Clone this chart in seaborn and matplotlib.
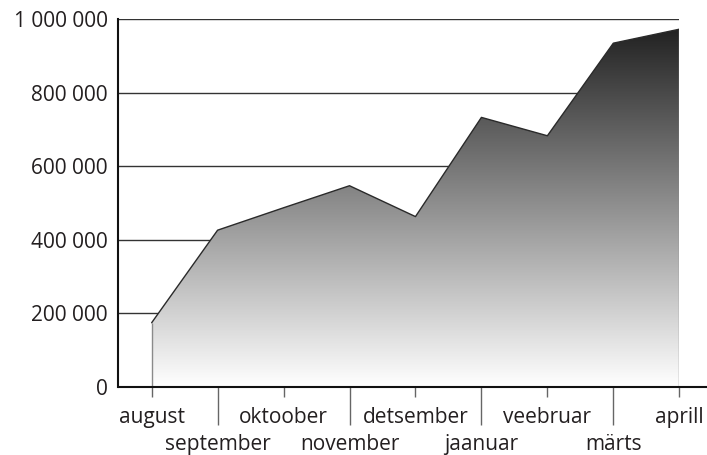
import numpy as np
import pandas as pd
import matplotlib
matplotlib.use("Agg")
import matplotlib.pyplot as plt
import seaborn as sns
from matplotlib.colors import LinearSegmentedColormap

months = ["august", "september", "oktoober", "november", "detsember",
          "jaanuar", "veebruar", "märts", "aprill"]
values = [174000, 426000, 487000, 547000, 463000, 733000, 683000, 935000, 973000]
yticks = [0, 200000, 400000, 600000, 800000, 1000000]
ytick_labels = ["0", "200 000", "400 000", "600 000", "800 000", "1 000 000"]

sns.set_style("white")
plt.rcParams['font.family'] = ['Open Sans', 'DejaVu Sans']

fig = plt.figure(figsize=(7.07, 4.55), dpi=100)
ax = fig.add_axes([0.1669, 0.1501, 0.7939, 0.8075])

df = pd.DataFrame({"idx": np.arange(len(months)), "value": values})

# gridlines (behind area)
for t in yticks[1:]:
    ax.axhline(t, color="#333333", lw=1, zorder=1)

poly = ax.fill_between(df["idx"], 0, df["value"], facecolor="white",
                       edgecolor="none", zorder=2)
cmap = LinearSegmentedColormap.from_list("g", ["#ffffff", "#1c1c1c"])
grad = np.linspace(0, 1, 256).reshape(-1, 1)
im = ax.imshow(grad, extent=[0, len(months) - 1, 0, 1e6], origin="lower",
               aspect="auto", cmap=cmap, zorder=2.5, interpolation="bilinear")
im.set_clip_path(poly.get_paths()[0], transform=ax.transData)

ax.vlines([0, len(months) - 1], 0, [values[0], values[-1]],
          color="#8a8a8a", lw=1, zorder=3)
sns.lineplot(data=df, x="idx", y="value", color="#2a2a2a", lw=1, ax=ax, zorder=4)

ax.set_xlim(-0.51, len(months) - 1)
ax.set_ylim(0, 1e6)
ax.set_xlabel("")
ax.set_ylabel("")

for s in ["top", "right", "bottom"]:
    ax.spines[s].set_visible(False)
ax.spines["left"].set_color("#111111")
ax.spines["left"].set_linewidth(1.5)
ax.axhline(0, xmin=0, xmax=1.06, color="#111111", lw=1.5, clip_on=False, zorder=5)

ax.set_yticks(yticks)
ax.set_yticklabels(ytick_labels)
ax.tick_params(axis="y", length=0, pad=7.5, labelsize=15, colors="#231f20")

major = list(range(0, len(months), 2))
minor = list(range(1, len(months), 2))
ax.set_xticks(major)
ax.set_xticklabels([months[i] for i in major])
ax.set_xticks(minor, minor=True)
ax.set_xticklabels([months[i] for i in minor], minor=True)
ax.tick_params(axis="x", which="major", length=7.5, width=1, color="#666666",
               pad=7, labelsize=15, labelcolor="#231f20")
ax.tick_params(axis="x", which="minor", length=27.5, width=1, color="#666666",
               pad=6.5, labelsize=15, labelcolor="#231f20")
ax.tick_params(axis="x", which="both", bottom=True)

fig.savefig("out.png", dpi=100)
